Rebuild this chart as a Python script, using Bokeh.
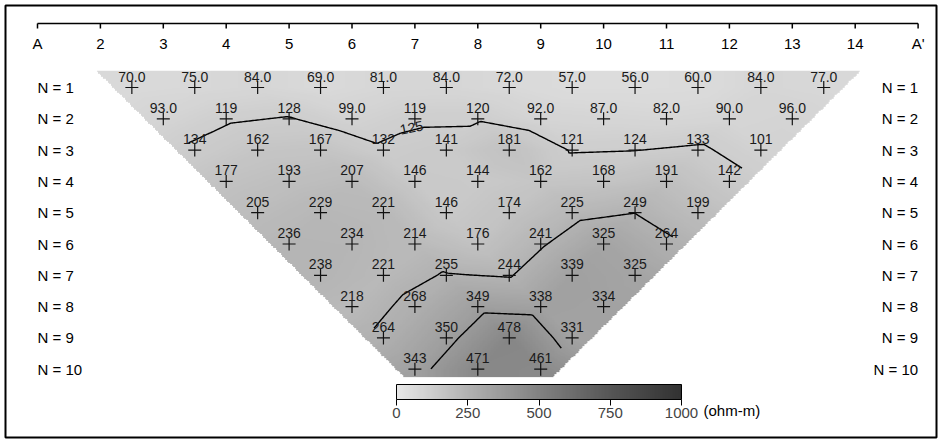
import numpy as np
from bokeh.plotting import figure
from bokeh.models import Range1d, LinearColorMapper, ColorBar, FixedTicker
from bokeh.core.properties import value
from bokeh.embed import file_html
from bokeh.resources import INLINE

# ---------------- data ----------------
electrodes = list(range(1, 16))
electrode_labels = ["A"] + [str(i) for i in range(2, 15)] + ["A'"]

separations = list(range(1, 11))
row_labels = [f"N = {n}" for n in separations]

# apparent resistivity (ohm-m) for each dipole separation N
rho_n1 = [70, 75, 84, 69, 81, 84, 72, 57, 56, 60, 84, 77]
rho_n2 = [93, 119, 128, 99, 119, 120, 92, 87, 82, 90, 96]
rho_n3 = [134, 162, 167, 132, 141, 181, 121, 124, 133, 101]
rho_n4 = [177, 193, 207, 146, 144, 162, 168, 191, 142]
rho_n5 = [205, 229, 221, 146, 174, 225, 249, 199]
rho_n6 = [236, 234, 214, 176, 241, 325, 264]
rho_n7 = [238, 221, 255, 244, 339, 325]
rho_n8 = [218, 268, 349, 338, 334]
rho_n9 = [264, 350, 478, 331]
rho_n10 = [343, 471, 461]
rows = [rho_n1, rho_n2, rho_n3, rho_n4, rho_n5, rho_n6, rho_n7, rho_n8, rho_n9, rho_n10]

contour_levels = [125, 250, 375]
contour_label = "125"
cbar_ticks = [0, 250, 500, 750, 1000]
unit_label = "(ohm-m)"

# ---------------- layout helpers (page pixel -> data) ----------------
W, H = 939, 441
FL, FT, FR, FB = 5, 5, 3, 4          # frame insets
PX0, PXU = 37.0, 62.9   # page x of electrode 1, px per electrode
PY0, PYU = 87.0, 31.3   # page y of N=1, px per N
def ex(px):
    return 1 + (px - PX0) / PXU
def ny(py):
    return 1 + (py - PY0) / PYU

# ---------------- pseudosection points (dipole-dipole geometry) ----------------
xs, ns, vals, idx = [], [], [], {}
for n, row in zip(separations, rows):
    for k, v in enumerate(row, start=1):
        idx[(n, k)] = len(xs)
        xs.append(k + 1 + n / 2)
        ns.append(n)
        vals.append(v)
xs = np.array(xs, float); ns = np.array(ns, float); vals = np.array(vals, float)
val_text = [f"{v:.1f}" if v < 100 else f"{v:.0f}" for v in vals]

tris = []
for n, row in zip(separations, rows):
    for k in range(1, len(row) + 1):
        if (n, k + 1) in idx and (n + 1, k) in idx:
            tris.append((idx[(n, k)], idx[(n, k + 1)], idx[(n + 1, k)]))
            if (n + 1, k + 1) in idx:
                tris.append((idx[(n, k + 1)], idx[(n + 1, k)], idx[(n + 1, k + 1)]))

dxg, dyg = 0.025, 0.03
gx = np.arange(1.4, 14.6 + 1e-9, dxg)
gn = np.arange(0.0, 10.6 + 1e-9, dyg)
GX, GN = np.meshgrid(gx, gn)
z = np.full(GX.shape, np.nan)
for a, b, c in tris:
    x1, y1, v1 = xs[a], ns[a], vals[a]
    x2, y2, v2 = xs[b], ns[b], vals[b]
    x3, y3, v3 = xs[c], ns[c], vals[c]
    det = (y2 - y3) * (x1 - x3) + (x3 - x2) * (y1 - y3)
    l1 = ((y2 - y3) * (GX - x3) + (x3 - x2) * (GN - y3)) / det
    l2 = ((y3 - y1) * (GX - x3) + (x1 - x3) * (GN - y3)) / det
    l3 = 1 - l1 - l2
    ins = (l1 >= -1e-9) & (l2 >= -1e-9) & (l3 >= -1e-9)
    z[ins] = (l1 * v1 + l2 * v2 + l3 * v3)[ins]

# extend the field a little outside the data hull for the shaded area
zf = z.copy()
nyg, nxg = zf.shape
for _ in range(45):
    nanm = np.isnan(zf)
    pad = np.pad(zf, 1, constant_values=np.nan)
    st = np.stack([pad[1 + dy:1 + dy + nyg, 1 + dx:1 + dx + nxg]
                   for dy in (-1, 0, 1) for dx in (-1, 0, 1) if (dy, dx) != (0, 0)])
    cnt = np.sum(~np.isnan(st), axis=0)
    s = np.nansum(st, axis=0)
    fill = nanm & (cnt > 0)
    if not fill.any():
        break
    zf[fill] = s[fill] / cnt[fill]
m_side, n_top, n_bot = 0.3, 0.45, 10.25
outside = (GN < n_top) | (GN > n_bot) | (GX < 2 + GN / 2 - m_side) | (GX > 14 - GN / 2 + m_side)
zf[outside] = np.nan

# ---------------- colours ----------------
anch_v = [0, 250, 500, 750, 1000]
anch_g = [232, 178, 130, 86, 50]
grays = []
for t in np.linspace(0, 1000, 256):
    g = int(round(np.interp(t, anch_v, anch_g)))
    grays.append(f"#{g:02x}{g:02x}{g:02x}")
mapper = LinearColorMapper(palette=grays, low=0, high=1000, nan_color="rgba(0,0,0,0)")

# ---------------- figure ----------------
p = figure(width=W, height=H, output_backend="svg", toolbar_location=None,
           x_axis_type=None, y_axis_type=None,
           min_border_left=FL, min_border_top=FT, min_border_right=FR, min_border_bottom=FB,
           x_range=Range1d(ex(FL), ex(W - FR)), y_range=Range1d(ny(H - FB), ny(FT)))
p.outline_line_color = "black"
p.outline_line_width = 2
p.background_fill_color = "white"
p.border_fill_color = "white"

p.image(image=[zf], x=gx[0] - dxg / 2, y=gn[0] - dyg / 2,
        dw=gx[-1] - gx[0] + dxg, dh=gn[-1] - gn[0] + dyg, color_mapper=mapper)

p.contour(gx, gn, z, levels=contour_levels, line_color="black", line_width=1.4)

FONT = value("Liberation Sans")
p.scatter(xs, ns, marker="cross", size=13, line_color="#111111", line_width=1.2)
p.text(xs, ns, text=val_text, text_align="center", text_baseline="middle", y_offset=-11,
       text_font=FONT, text_font_size="14px", text_color="#1a1a1a")

# contour label
p.text([ex(411)], [ny(127)], text=[contour_label], text_align="center", text_baseline="middle",
       angle=0.2, text_font=FONT, text_font_size="14px", text_color="#1a1a1a")

# top electrode axis
ya, yt, yl = ny(23), ny(28), ny(43)
p.line([electrodes[0], electrodes[-1]], [ya, ya], line_color="black", line_width=1.5)
p.segment(x0=electrodes, y0=[ya] * len(electrodes), x1=electrodes, y1=[yt] * len(electrodes),
          line_color="black", line_width=1.5)
p.text(electrodes, [yl] * len(electrodes), text=electrode_labels, text_align="center",
       text_baseline="middle", text_font=FONT, text_font_size="15px", text_color="black")

# row labels
p.text([electrodes[0]] * len(separations), separations, text=row_labels, text_align="left",
       text_baseline="middle", text_font=FONT, text_font_size="15px", text_color="black")
p.text([electrodes[-1]] * len(separations), separations, text=row_labels, text_align="right",
       text_baseline="middle", text_font=FONT, text_font_size="15px", text_color="black")

# colour bar
cb = ColorBar(color_mapper=mapper, orientation="horizontal", width=285, height=15,
              location=(396 - FL, 17), ticker=FixedTicker(ticks=cbar_ticks),
              major_label_text_font="Liberation Sans", major_label_text_font_size="15px",
              major_tick_out=6, major_tick_in=0, major_tick_line_color="black",
              minor_tick_line_color=None, bar_line_color="black", padding=0, margin=0,
              label_standoff=2, background_fill_alpha=0, border_line_color=None)
p.add_layout(cb)
p.text([ex(703)], [ny(410)], text=[unit_label], text_align="left", text_baseline="middle",
       text_font=FONT, text_font_size="15px", text_color="black")

open("out.html", "w").write(file_html(p, INLINE))
